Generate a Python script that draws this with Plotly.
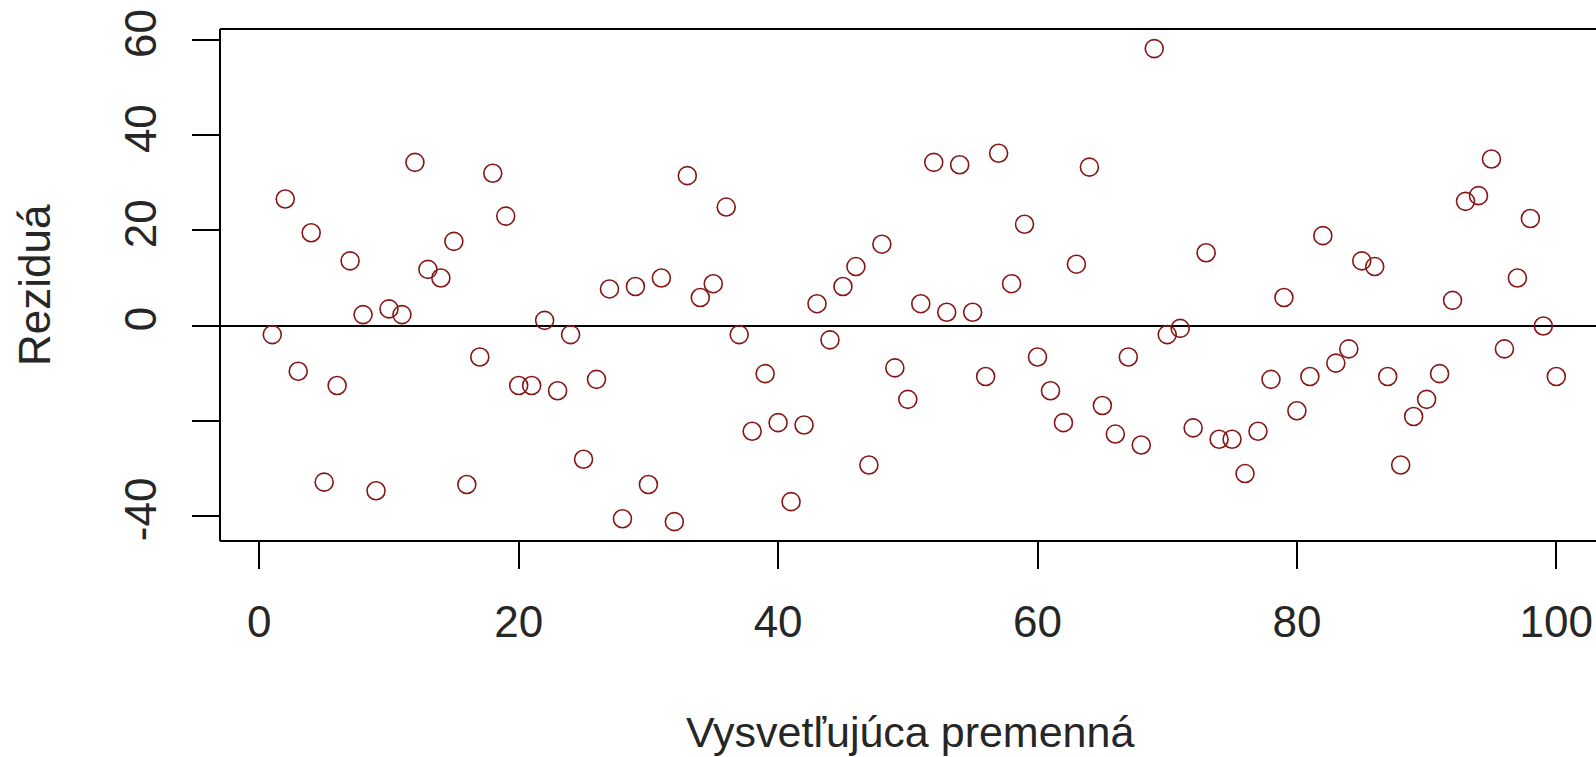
import plotly.graph_objects as go

# Residuals against the explanatory variable (observations 1..100)
x_vals = list(range(1, 101))
residuals = [
    -1.9, 26.6, -9.6, 19.5, -32.9, -12.6, 13.6, 2.3, -34.7, 3.5,
    2.3, 34.3, 11.8, 10.0, 17.7, -33.4, -6.6, 32.0, 23.0, -12.6,
    -12.6, 1.1, -13.7, -1.9, -28.1, -11.3, 7.7, -40.6, 8.2, -33.4,
    10.0, -41.2, 31.5, 5.9, 8.8, 24.9, -1.9, -22.2, -10.1, -20.4,
    -37.0, -20.9, 4.6, -3.0, 8.2, 12.4, -29.3, 17.1, -8.9, -15.5,
    4.6, 34.3, 2.8, 33.8, 2.8, -10.7, 36.2, 8.8, 21.3, -6.6,
    -13.7, -20.4, 12.9, 33.3, -16.8, -22.8, -6.6, -25.1, 58.2, -1.9,
    -0.6, -21.5, 15.3, -23.9, -23.9, -31.1, -22.2, -11.3, 5.9, -17.9,
    -10.7, 18.9, -7.9, -4.9, 13.6, 12.4, -10.7, -29.3, -19.1, -15.5,
    -10.1, 5.3, 26.1, 27.3, 35.0, -4.9, 10.0, 22.5, -0.1, -10.7,
]
x_ticks = [0, 20, 40, 60, 80, 100]
y_ticks = [-40, -20, 0, 20, 40, 60]
y_tick_text = ["-40", "", "0", "20", "40", "60"]

x_title = "Vysvetľujúca premenná"
y_title = "Reziduá"

FONT = "Liberation Sans, Arial, sans-serif"
TEXT = "#262626"

fig = go.Figure()
fig.add_trace(go.Scatter(
    x=x_vals, y=residuals, mode="markers",
    marker=dict(symbol="circle-open", size=18, color="#861616",
                line=dict(width=1.6, color="#861616")),
    hoverinfo="x+y", showlegend=False,
))

fig.update_layout(
    width=1596, height=757,
    margin=dict(l=220, r=0, t=29, b=216),
    paper_bgcolor="white", plot_bgcolor="white",
    font=dict(family=FONT, size=44, color=TEXT),
    xaxis=dict(
        range=[-3.03, 103.06], tickmode="array", tickvals=x_ticks,
        ticks="outside", ticklen=27, tickwidth=2, tickcolor="black",
        showgrid=False, zeroline=False, showline=False,
        tickfont=dict(size=44, color=TEXT), ticklabelstandoff=15,
    ),
    yaxis=dict(
        range=[-45.27, 62.32], tickmode="array", tickvals=y_ticks,
        ticktext=y_tick_text, tickangle=-90,
        ticks="outside", ticklen=27, tickwidth=2, tickcolor="black",
        showgrid=False, zeroline=True, zerolinecolor="black", zerolinewidth=2,
        showline=False,
        tickfont=dict(size=44, color=TEXT), ticklabelstandoff=18,
    ),
    shapes=[
        # open plot frame: left, top and bottom sides
        dict(type="line", xref="paper", yref="paper", x0=0, x1=0, y0=0, y1=1,
             line=dict(color="black", width=2)),
        dict(type="line", xref="paper", yref="paper", x0=0, x1=1, y0=1, y1=1,
             line=dict(color="black", width=2)),
        dict(type="line", xref="paper", yref="paper", x0=0, x1=1, y0=0, y1=0,
             line=dict(color="black", width=2)),
    ],
    annotations=[
        dict(text=x_title, xref="paper", yref="paper",
             x=(910 - 220) / 1376, y=(541 - 732) / 512,
             xanchor="center", yanchor="middle", showarrow=False,
             font=dict(size=43, color=TEXT)),
        dict(text=y_title, xref="paper", yref="paper",
             x=(34 - 220) / 1376, y=0.5, textangle=-90,
             xanchor="center", yanchor="middle", showarrow=False,
             font=dict(size=44, color=TEXT)),
    ],
)

fig.write_html("out.html")
